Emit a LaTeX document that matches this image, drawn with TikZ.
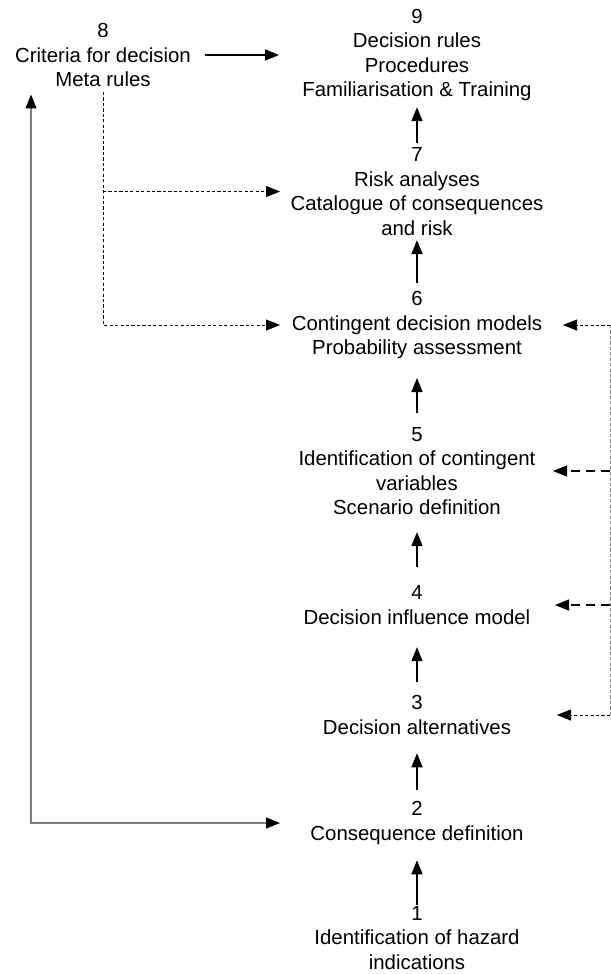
\documentclass[tikz,border=0pt]{standalone}
\usepackage{fontspec}
\setmainfont{Liberation Sans}
\usetikzlibrary{arrows.meta}

\begin{document}
\begin{tikzpicture}[>={Triangle[length=0.28cm,width=0.22cm]},
	   font=\fontsize{11.6}{13.9}\selectfont,
	   txt/.style={align=center, inner sep=0pt},
	   fw/.style={->, line width=0.9pt},
	   dl/.style={->, line width=0.45pt, dash pattern=on 1.8pt off 1.3pt},
	   dd/.style={->, line width=0.75pt, dash pattern=on 5pt off 3.5pt},
	   gl/.style={draw=gray, line width=0.7pt}]
	  \useasboundingbox (0,0) rectangle (12.22,-19.48);
	  \node[txt] (n9) at (8.34,-1.10) {9\\Decision rules\\Procedures\\Familiarisation \& Training};
	  \node[txt] (n8) at (2.06,-1.10) {8\\Criteria for decision\\Meta rules};
	  \node[txt] (n7) at (8.34,-3.83) {7\\Risk analyses\\Catalogue of consequences\\and risk};
	  \node[txt] (n6) at (8.34,-6.50) {6\\Contingent decision models\\Probability assessment};
	  \node[txt] (n5) at (8.34,-9.42) {5\\Identification of contingent\\variables\\Scenario definition};
	  \node[txt] (n4) at (8.34,-12.10) {4\\Decision influence model};
	  \node[txt] (n3) at (8.34,-14.30) {3\\Decision alternatives};
	  \node[txt] (n2) at (8.34,-16.46) {2\\Consequence definition};
	  \node[txt] (n1) at (8.34,-18.76) {1\\Identification of hazard\\indications};
	  % x positions of the side lines and arrow tips
	  \coordinate (G) at (0.62,0); \coordinate (TL) at (5.6,0);
	  \coordinate (TR) at (11.1,0); \coordinate (R) at (12.2,0);
	  % main chain
	  \draw[fw, shorten <=0.02cm, shorten >=0.31cm] (n1) -- (n2);
	  \draw[fw, shorten <=0.23cm, shorten >=0.37cm] (n2) -- (n3);
	  \draw[fw, shorten <=0.27cm, shorten >=0.45cm] (n3) -- (n4);
	  \draw[fw, shorten <=0.37cm, shorten >=0.34cm] (n4) -- (n5);
	  \draw[fw, shorten <=0.28cm, shorten >=0.38cm] (n5) -- (n6);
	  \draw[fw, shorten <=0.16cm, shorten >=0.09cm] (n6) -- (n7);
	  \draw[fw, shorten <=0.09cm, shorten >=0.12cm] (n7) -- (n9);
	  \draw[fw, shorten <=0.27cm, shorten >=0.46cm] (n8) -- (n9);
	  % left side
	  \draw[dl] ([yshift=-0.1cm]n8.south) |- (n6 -| TL);
	  \draw[dl] (n8 |- n7) -- (n7 -| TL);
	  \draw[gl, {Triangle[length=0.28cm,width=0.22cm,black]}-{Triangle[length=0.28cm,width=0.22cm,black]}] ([yshift=-0.15cm]n8.south -| G) |- (n2 -| TL);
	  % right side
	  \draw[gray, line width=0.45pt, dash pattern=on 1.8pt off 1.3pt] (n6 -| R) -- (n3 -| R);
	  \draw[dl] (n6 -| R) -- ([xshift=0.16cm]n6 -| TR);
	  \draw[dd] (n5 -| R) -- ([xshift=-0.04cm]n5 -| TR);
	  \draw[dd] (n4 -| R) -- (n4 -| TR);
	  \draw[dl] (n3 -| R) -- ([xshift=0.04cm]n3 -| TR);
	\end{tikzpicture}
\end{document}
